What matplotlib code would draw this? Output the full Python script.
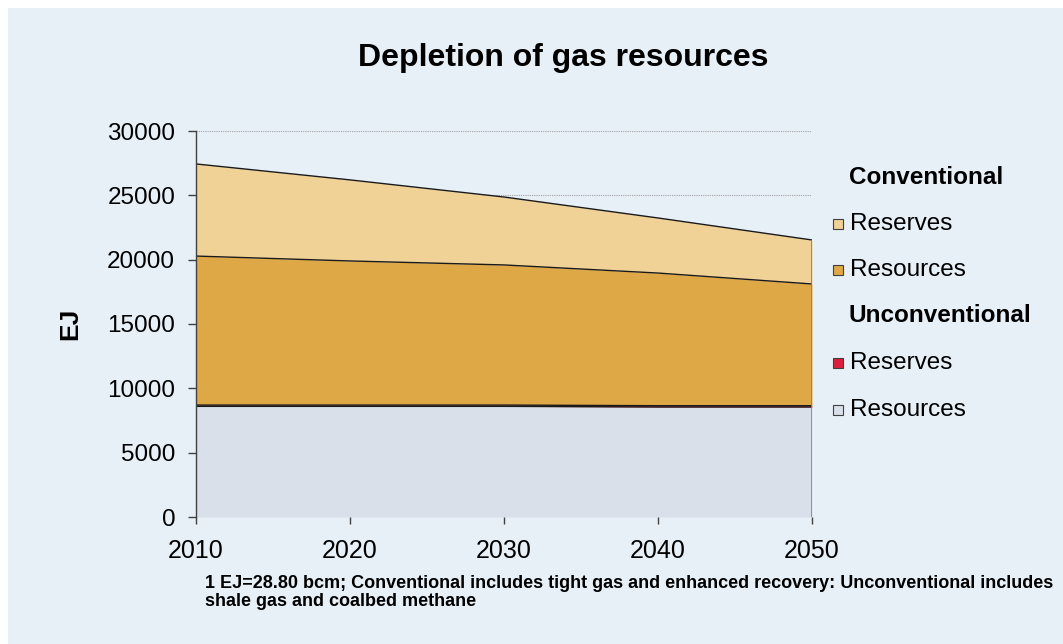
import matplotlib
matplotlib.use("Agg")
import matplotlib.pyplot as plt
import numpy as np
from matplotlib.patches import Rectangle

years = [2010, 2020, 2030, 2040, 2050]
unconv_resources = [8600, 8600, 8600, 8550, 8550]
unconv_reserves = [100, 100, 100, 100, 100]
conv_resources = [11580, 11200, 10890, 10310, 9460]
conv_reserves = [7160, 6300, 5280, 4280, 3420]

y_ticks = [0, 5000, 10000, 15000, 20000, 25000, 30000]
x_ticks = [2010, 2020, 2030, 2040, 2050]

title = "Depletion of gas resources"
ylabel = "EJ"
footnote = ("1 EJ=28.80 bcm; Conventional includes tight gas and enhanced recovery: Unconventional includes\n"
            "shale gas and coalbed methane")

col_conv_res = "#F0D296"
col_conv_rsc = "#DFA846"
col_unc_res = "#DC1E3C"
col_unc_rsc = "#D9E0EA"
bg = "#E8F0F7"

plt.rcParams['font.family'] = ['Liberation Sans', 'DejaVu Sans']

fig = plt.figure(figsize=(10.63, 6.44), dpi=100)
fig.patch.set_facecolor("white")
fig.patches.append(Rectangle((8/1063, 0), 1 - 8/1063, 1 - 8/644, transform=fig.transFigure,
                             facecolor=bg, edgecolor="none", zorder=-10))

ax = fig.add_axes([196/1063, 1 - 517/644, (812-196)/1063, (517-131)/644])
ax.set_facecolor("none")

x = np.array(years)
l1 = np.array(unconv_resources)
l2 = l1 + np.array(unconv_reserves)
l3 = l2 + np.array(conv_resources)
l4 = l3 + np.array(conv_reserves)

for yt in y_ticks[1:]:
    ax.axhline(yt, color="#A0A0A0", lw=0.8, ls=(0, (1, 1)), zorder=0)

ax.fill_between(x, 0, l1, color=col_unc_rsc, lw=0, zorder=1)
ax.fill_between(x, l1, l2, color=col_unc_res, lw=0, zorder=1)
ax.fill_between(x, l2, l3, color=col_conv_rsc, lw=0, zorder=1)
ax.fill_between(x, l3, l4, color=col_conv_res, lw=0, zorder=1)
for ln in (l1, l2, l3, l4):
    ax.plot(x, ln, color="#1a1a1a", lw=1.0, zorder=2)
ax.vlines(x[-1], 0, l4[-1], color="#808080", lw=1.2, zorder=2)

ax.set_xlim(x_ticks[0], x_ticks[-1])
ax.set_ylim(y_ticks[0], y_ticks[-1])
ax.set_yticks(y_ticks)
ax.set_xticks(x_ticks)
ax.tick_params(axis="y", length=6, width=1, color="#404040", labelsize=17.5, pad=9)
ax.tick_params(axis="x", length=5, width=1, color="#404040", labelsize=18, pad=11)
for s in ("top", "right", "bottom"):
    ax.spines[s].set_visible(False)
ax.spines["left"].set_color("#404040")
ax.spines["left"].set_linewidth(1.0)

ax.set_ylabel(ylabel, fontsize=19, fontweight="bold", labelpad=18)

fig.text(563/1063, 1 - 58/644, title, ha="center", va="center", fontsize=23, fontweight="bold")

# legend
legend_rows = [
    ("Conventional", None, 177),
    ("Reserves", col_conv_res, 224),
    ("Resources", col_conv_rsc, 270),
    ("Unconventional", None, 316),
    ("Reserves", col_unc_res, 363),
    ("Resources", col_unc_rsc, 410),
]
for label, col, ypx in legend_rows:
    if col is None:
        fig.text(849/1063, 1 - ypx/644, label, ha="left", va="center", fontsize=17.5, fontweight="bold")
    else:
        fig.patches.append(Rectangle((833/1063, 1 - (ypx + 5)/644), 10/1063, 10/644,
                                     transform=fig.transFigure, facecolor=col,
                                     edgecolor="#404040", lw=0.8))
        fig.text(850/1063, 1 - ypx/644, label, ha="left", va="center", fontsize=17.5)

fig.text(205/1063, 1 - 575/644, footnote, ha="left", va="top", fontsize=13, fontweight="bold",
         linespacing=1.08)

fig.savefig("out.png", dpi=100)
